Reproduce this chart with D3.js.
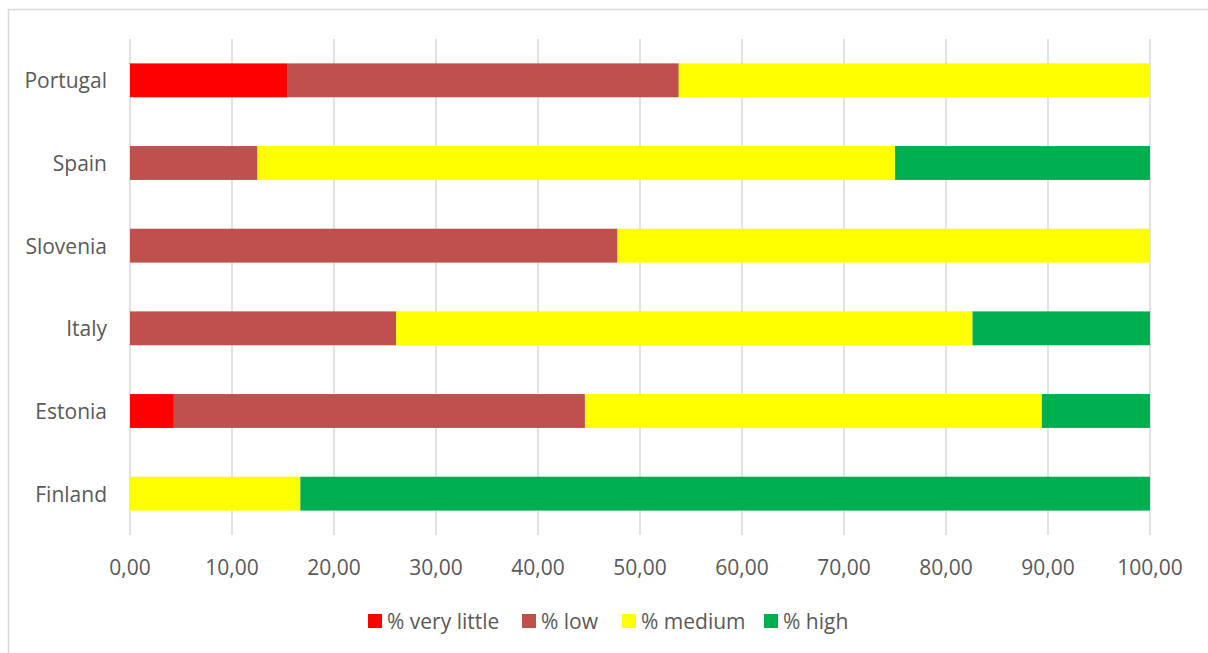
<!DOCTYPE html>
<html>
<head>
<meta charset="utf-8">
<script src="https://cdn.jsdelivr.net/npm/d3@7"></script>
<style>
  html, body { margin: 0; padding: 0; background: #fff; }
  svg { display: block; }
</style>
</head>
<body>
<div id="chart"></div>
<script>
// Countries, top to bottom
const countries = ["Portugal", "Spain", "Slovenia", "Italy", "Estonia", "Finland"];
// Share of respondents per level (%)
const veryLittle = [15.4, 0, 0, 0, 4.3, 0];
const low        = [38.4, 12.5, 47.8, 26.1, 40.3, 0];
const medium     = [46.2, 62.5, 52.2, 56.5, 44.8, 16.7];
const high       = [0, 25.0, 0, 17.4, 10.6, 83.3];
const seriesNames = ["% very little", "% low", "% medium", "% high"];
const seriesColors = ["#ff0000", "#c0504d", "#ffff00", "#00b050"];
const xTicks = [0, 10, 20, 30, 40, 50, 60, 70, 80, 90, 100];

const W = 1208, H = 653;
const svg = d3.select("#chart").append("svg").attr("width", W).attr("height", H);

// outer chart frame
svg.append("rect").attr("x", 8.5).attr("y", 9.5).attr("width", 1210).attr("height", 660)
  .attr("fill", "none").attr("stroke", "#d9d9d9").attr("stroke-width", 1.5);

const x = d3.scaleLinear().domain([0, 100]).range([130, 1150]);
const y = d3.scaleBand().domain(countries).range([39, 535]).paddingInner(0.59).paddingOuter(0.295);

const font = "'Open Sans', 'Liberation Sans', sans-serif";
const textColor = "#595959";

// vertical gridlines
svg.append("g").selectAll("line").data(xTicks).join("line")
  .attr("x1", d => x(d)).attr("x2", d => x(d))
  .attr("y1", 39).attr("y2", 535)
  .attr("stroke", "#d9d9d9").attr("stroke-width", 1.5);

// stacked bars
const stackData = countries.map((c, i) => ({
  country: c,
  [seriesNames[0]]: veryLittle[i],
  [seriesNames[1]]: low[i],
  [seriesNames[2]]: medium[i],
  [seriesNames[3]]: high[i]
}));
const stack = d3.stack().keys(seriesNames)(stackData);

svg.append("g").selectAll("g").data(stack).join("g")
  .attr("fill", (d, i) => seriesColors[i])
  .selectAll("rect").data(d => d.filter(p => p[1] - p[0] > 0)).join("rect")
  .attr("x", p => x(p[0]))
  .attr("width", p => x(p[1]) - x(p[0]))
  .attr("y", p => y(p.data.country))
  .attr("height", y.bandwidth());

// x-axis tick labels
const fmt = v => d3.format(".2f")(v).replace(".", ",");
svg.append("g").selectAll("text").data(xTicks).join("text")
  .attr("x", d => x(d)).attr("y", 567)
  .attr("text-anchor", "middle").attr("dominant-baseline", "central")
  .attr("font-family", font).attr("font-size", 21).attr("fill", textColor)
  .text(fmt);

// category labels
svg.append("g").selectAll("text").data(countries).join("text")
  .attr("x", 107).attr("y", d => y(d) + y.bandwidth() / 2)
  .attr("text-anchor", "end").attr("dominant-baseline", "central")
  .attr("font-family", font).attr("font-size", 21).attr("fill", textColor)
  .text(d => d);

// legend
const legendX = [368, 522, 622, 764];
const lg = svg.append("g").selectAll("g").data(seriesNames).join("g")
  .attr("transform", (d, i) => `translate(${legendX[i]},614)`);
lg.append("rect").attr("width", 14).attr("height", 14).attr("fill", (d, i) => seriesColors[i]);
lg.append("text").attr("x", 19).attr("y", 7).attr("dominant-baseline", "central")
  .attr("font-family", font).attr("font-size", 21).attr("fill", textColor)
  .text(d => d);
</script>
</body>
</html>
